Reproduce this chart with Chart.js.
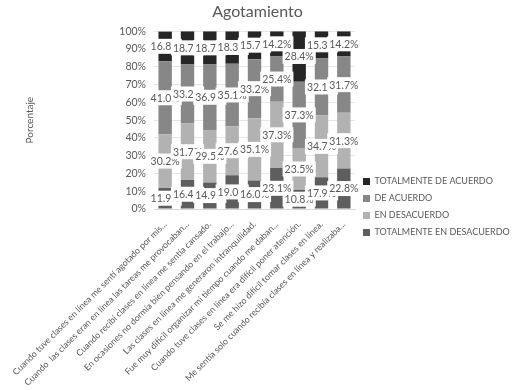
<!DOCTYPE html>
<html>
<head>
<meta charset="utf-8">
<script src="https://cdn.jsdelivr.net/npm/chart.js@4"></script>
<style>
  html, body { margin: 0; padding: 0; background: #fff; }
</style>
</head>
<body>
<canvas id="agotamientoChart" width="515" height="390"></canvas>
<script>
// Datos (porcentajes por afirmación)
const categorias = [
    'Cuando tuve clases en línea me sentí agotado por mis...',
    'Cuando  las clases eran en línea las tareas me provocaban...',
    'Cuando recibí clases en línea me sentía cansado.',
    'En ocasiones no dormía bien pensando en el trabajo...',
    'Las clases en línea me generaron intranquilidad.',
    'Fue muy difícil organizar mi tiempo cuando me daban...',
    'Cuando tuve clases en línea era difícil poner atención.',
    'Se me hizo difícil tomar clases en línea.',
    'Me sentía solo cuando recibía clases en línea y realizaba...'
];
const totalmenteEnDesacuerdo = [11.9, 16.4, 14.9, 19.0, 16.0, 23.1, 10.8, 17.9, 22.8];
const enDesacuerdo = [30.2, 31.7, 29.5, 27.6, 35.1, 37.3, 23.5, 34.7, 31.3];
const deAcuerdo = [41.0, 33.2, 36.9, 35.1, 33.2, 25.4, 37.3, 32.1, 31.7];
const totalmenteDeAcuerdo = [16.8, 18.7, 18.7, 18.3, 15.7, 14.2, 28.4, 15.3, 14.2];
const ticksY = [0, 10, 20, 30, 40, 50, 60, 70, 80, 90, 100];

const fuente = 'Lato';
const gris = '#595959';

// etiquetas de datos con fondo blanco
const etiquetasPlugin = {
    id: 'etiquetas',
    afterDatasetsDraw(chart) {
        const ctx = chart.ctx;
        ctx.save();
        ctx.font = '10.5px ' + fuente;
        ctx.textAlign = 'center';
        ctx.textBaseline = 'middle';
        chart.data.datasets.forEach((ds, i) => {
            const meta = chart.getDatasetMeta(i);
            meta.data.forEach((bar, j) => {
                const txt = ds.data[j].toFixed(1) + '%';
                const yc = (bar.y + bar.base) / 2;
                const w = ctx.measureText(txt).width + 4;
                ctx.fillStyle = '#ffffff';
                ctx.fillRect(bar.x - w / 2, yc - 7.5, w, 15);
                ctx.fillStyle = gris;
                ctx.fillText(txt, bar.x, yc + 0.5);
            });
        });
        ctx.restore();
    }
};

const ctx = document.getElementById('agotamientoChart').getContext('2d');

new Chart(ctx, {
    type: 'bar',
    data: {
        labels: categorias,
        datasets: [
            { label: 'TOTALMENTE EN DESACUERDO', data: totalmenteEnDesacuerdo, backgroundColor: '#5e5e5e' },
            { label: 'EN DESACUERDO', data: enDesacuerdo, backgroundColor: '#b2b2b2' },
            { label: 'DE ACUERDO', data: deAcuerdo, backgroundColor: '#878787' },
            { label: 'TOTALMENTE DE ACUERDO', data: totalmenteDeAcuerdo, backgroundColor: '#262626' }
        ]
    },
    options: {
        responsive: false,
        animation: false,
        barPercentage: 0.6,
        categoryPercentage: 1,
        layout: { padding: { left: 0, right: 0, top: 0, bottom: 0 } },
        plugins: {
            title: {
                display: true,
                text: 'Agotamiento',
                color: gris,
                font: { family: fuente, size: 16, weight: 'normal' },
                padding: { top: 2, bottom: 10 }
            },
            legend: {
                position: 'right',
                reverse: true,
                maxWidth: 160,
                // título vacío solo para bajar las entradas
                title: { display: true, text: ' ', font: { size: 10 }, padding: 6 },
                labels: {
                    boxWidth: 7,
                    boxHeight: 7,
                    padding: 8,
                    color: gris,
                    font: { family: fuente, size: 9 }
                }
            },
            tooltip: { enabled: false }
        },
        scales: {
            x: {
                stacked: true,
                grid: { display: false },
                border: { color: '#d9d9d9' },
                ticks: {
                    color: gris,
                    font: { family: fuente, size: 8.85 },
                    minRotation: 45,
                    maxRotation: 45,
                    autoSkip: false,
                    padding: 2
                }
            },
            y: {
                stacked: true,
                min: 0,
                max: 100,
                afterFit: (scale) => { scale.width = 154; },
                afterBuildTicks: (scale) => { scale.ticks = ticksY.map(v => ({ value: v })); },
                grid: { color: '#e6e6e6', drawTicks: false },
                border: { display: false },
                ticks: {
                    color: gris,
                    font: { family: fuente, size: 10.5 },
                    padding: 8,
                    callback: (v) => v + '%'
                },
                title: {
                    display: true,
                    text: 'Porcentaje',
                    color: gris,
                    font: { family: fuente, size: 10 },
                    padding: { top: 24, bottom: 0 }
                }
            }
        }
    },
    plugins: [etiquetasPlugin]
});
</script>
</body>
</html>
